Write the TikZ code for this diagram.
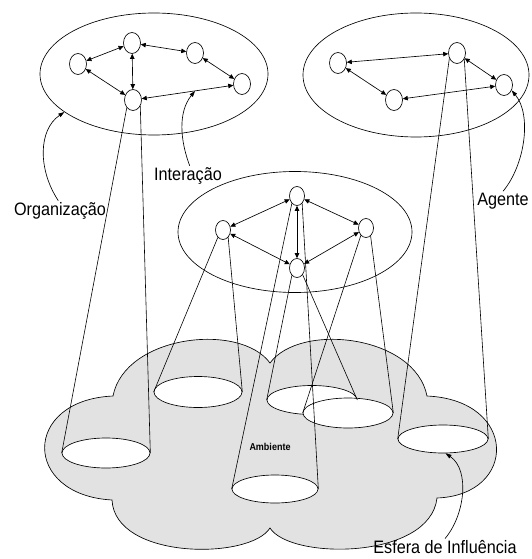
\documentclass[tikz,border=0pt]{standalone}
\usepackage{fontspec}
\setmainfont{Liberation Sans}
\newfontfamily\lblfont[FakeStretch=0.9]{Liberation Sans}
\usetikzlibrary{shapes.geometric,arrows.meta}
\definecolor{cloudgray}{HTML}{E2E2E2}
\begin{document}
\begin{tikzpicture}[x=1pt,y=-1pt, line width=0.65pt,
  agent/.style={ellipse, draw, fill=white, minimum width=17pt, minimum height=21pt, inner sep=0pt},
  magent/.style={agent, minimum width=15pt, minimum height=19pt},
  group/.style={ellipse, draw, inner sep=0pt},
  sphere/.style={ellipse, draw, fill=white, inner sep=0pt},
  link/.style={{Triangle[length=5pt,width=4.5pt]}-{Triangle[length=5pt,width=4.5pt]}},
  cone/.style={line width=0.6pt},
  annot/.style={-{Triangle[length=6pt,width=4pt]}},
  lbl/.style={font=\lblfont\fontsize{18}{20}\selectfont, inner sep=1pt, anchor=base},
]
\useasboundingbox (0,0) rectangle (531,559);

% environment cloud
\draw[fill=cloudgray] (113,396) .. controls (125,335) and (240,322) .. (270,363)
  .. controls (300,322) and (415,335) .. (427,396)
  .. controls (518,400) and (518,495) .. (437,498)
  .. controls (430,560) and (290,560) .. (270,528)
  .. controls (250,560) and (115,560) .. (112,500)
  .. controls (22,495) and (22,400) .. cycle;

% spheres of influence
\node[sphere, minimum width=88pt, minimum height=30pt] (E1) at (106,453) {};
\node[sphere, minimum width=88pt, minimum height=31pt] (E2) at (198,392) {};
\node[sphere, minimum width=86pt, minimum height=28pt] (E3) at (275,489) {};
\node[sphere, minimum width=90pt, minimum height=29pt] (E4) at (312,400) {};
\node[sphere, minimum width=90pt, minimum height=30pt] (E5) at (348,413) {};
\node[sphere, minimum width=90pt, minimum height=28pt] (E6) at (443,439) {};
\node[font=\lblfont\bfseries\fontsize{10}{12}\selectfont] (lblAmb) at (270,447) {Ambiente};

% organisations
\node[group, minimum width=228pt, minimum height=122pt] (gOrg) at (154,74) {};
\node[group, minimum width=226pt, minimum height=124pt] (gRight) at (416,75) {};
\node[group, minimum width=234pt, minimum height=121pt] (gMid) at (295,232) {};

% agents
\node[agent] (A1) at (78,64) {};
\node[agent] (A2) at (132,43) {};
\node[agent] (A3) at (195,53) {};
\node[agent] (A4) at (242,84) {};
\node[agent] (A5) at (133,100) {};
\node[agent] (B1) at (338,63) {};
\node[agent] (B2) at (457,53) {};
\node[agent] (B3) at (504,85) {};
\node[agent] (B4) at (394,100) {};
\node[magent] (C1) at (223,230) {};
\node[magent] (C2) at (297,196) {};
\node[magent] (C3) at (366,228) {};
\node[magent] (C4) at (297,268) {};

% interactions
\draw[link] (A1) -- (A2);
\draw[link] (A2) -- (A3);
\draw[link] (A2) -- (A5);
\draw[link] (A1) -- (A5);
\draw[link] (A3) -- (A4);
\draw[link] (A4) -- (A5);
\draw[link] (B1) -- (B2);
\draw[link] (B1) -- (B4);
\draw[link] (B2) -- (B3);
\draw[link] (B3) -- (B4);
\draw[link] (C1) -- (C2);
\draw[link] (C1) -- (C4);
\draw[link] (C2) -- (C4);
\draw[link] (C2) -- (C3);
\draw[link] (C3) -- (C4);

% cones of influence
\draw[cone] (A5.231) -- (E1.west);
\draw[cone] (A5.-40) -- (E1.east);
\draw[cone] (C1.235) -- (E2.west);
\draw[cone] (C1.-55) -- (E2.east);
\draw[cone] (C2.235) -- (E3.west);
\draw[cone] (C2.-55) -- (E3.east);
\draw[cone] (C4.235) -- (E4.west);
\draw[cone] (C4.-50) -- (E4.east);
\draw[cone] (C3.235) -- (E5.west);
\draw[cone] (C3.-60) -- (E5.east);
\draw[cone] (B2.215) -- (E6.west);
\draw[cone] (B2.-40) -- (E6.east);

% labels
\node[lbl] (lblInt) at (188,180) {Interação};
\node[lbl] (lblOrg) at (60,215) {Organização};
\node[lbl] (lblAg) at (503,205) {Agente};
\node[lbl] (lblEsf) at (445,553) {Esfera de Influência};

\coordinate (intTip) at (195,91);
\draw[annot] (lblInt.80) .. controls (180,140) and (178,112) .. (intTip);
\draw[annot] (lblOrg.100) .. controls (38,170) and (38,130) .. (gOrg.-157);
\draw[annot] (lblAg.north) .. controls (525,165) and (532,115) .. (B3.-35);
\draw[annot] (lblEsf.north) .. controls (465,515) and (470,470) .. (E6.-80);
\end{tikzpicture}
\end{document}
